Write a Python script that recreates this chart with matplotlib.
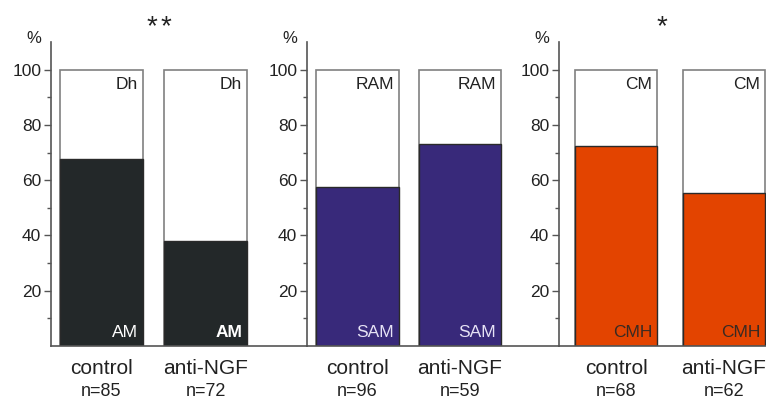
import matplotlib
matplotlib.use("Agg")
import matplotlib.pyplot as plt

plt.rcParams["font.family"] = ["Liberation Sans", "DejaVu Sans"]

# data
groups = ["control", "anti-NGF"]
n_left = ["n=85", "n=72"]
n_mid = ["n=96", "n=59"]
n_right = ["n=68", "n=62"]
am_pct = [67.6, 37.9]
sam_pct = [57.4, 73.2]
cmh_pct = [72.5, 55.3]
top_labels = ["Dh", "RAM", "CM"]
bottom_labels = ["AM", "SAM", "CMH"]

W, H = 766, 401
TEXT = "#222222"
SPINE = "#555555"

panels = [
    # values, n labels, fill, label colour, axes px (left, right), bar centres px, bar width px, star x px
    (am_pct, n_left, "#232829", "white", (51, 307), (101.5, 205.5), 83, (152, 166)),
    (sam_pct, n_mid, "#38297a", "#e6e2f5", (307, 559), (357.4, 460.0), 82.5, ()),
    (cmh_pct, n_right, "#e34400", "#3a2a22", (559, 766), (616.0, 724.0), 82, (662,)),
]

fig = plt.figure(figsize=(W / 100, H / 100), dpi=100)
y0_px, ytop_px = 346, 42

for i, (vals, ns, fill, lab_col, (l, r), centres, bw, star_xs) in enumerate(panels):
    ax = fig.add_axes([l / W, (H - y0_px) / H, (r - l) / W, (y0_px - ytop_px) / H])
    ax.set_xlim(l, r)
    ax.set_ylim(0, 110)
    for k, c in enumerate(centres):
        ax.bar(c, 100, width=bw, color="white", edgecolor="#808080", linewidth=1.2, zorder=1)
        ax.bar(c, vals[k], width=bw, color=fill, edgecolor="#2a2a2a", linewidth=1.0, zorder=2)
        ax.text(c + bw / 2 - 5, 94.8, top_labels[i], ha="right", va="center",
                fontsize=12.5, color=TEXT, zorder=3)
        weight = "bold" if (i == 0 and k == 1) else "normal"
        ax.text(c + bw / 2 - 5, 4.8, bottom_labels[i], ha="right", va="center",
                fontsize=12.5, color=lab_col, fontweight=weight, zorder=3)
        ax.text(c, -8, groups[k], ha="center", va="center", fontsize=15, color=TEXT,
                clip_on=False)
        ax.text(c, -16.3, ns[k], ha="center", va="center", fontsize=13, color=TEXT,
                clip_on=False)
    # significance stars
    for sx in star_xs:
        ax.text(sx, 115.2, "*", ha="center", va="center",
                fontsize=20, color=TEXT, clip_on=False)
    ax.text(l - 17, 111.3, "%", ha="center", va="center", fontsize=12, color=TEXT,
            clip_on=False)

    ax.set_yticks([20, 40, 60, 80, 100])
    ax.set_yticks([10, 30, 50, 70, 90], minor=True)
    ax.tick_params(axis="y", which="major", length=5, width=1, color=SPINE,
                   labelsize=12.5, labelcolor=TEXT, pad=2)
    ax.tick_params(axis="y", which="minor", length=3, width=1, color=SPINE)
    ax.set_xticks([])
    for side in ["top", "right"]:
        ax.spines[side].set_visible(False)
    for side in ["left", "bottom"]:
        ax.spines[side].set_color(SPINE)
        ax.spines[side].set_linewidth(1.2)
    ax.patch.set_alpha(0)

fig.savefig("out.png", dpi=100)
